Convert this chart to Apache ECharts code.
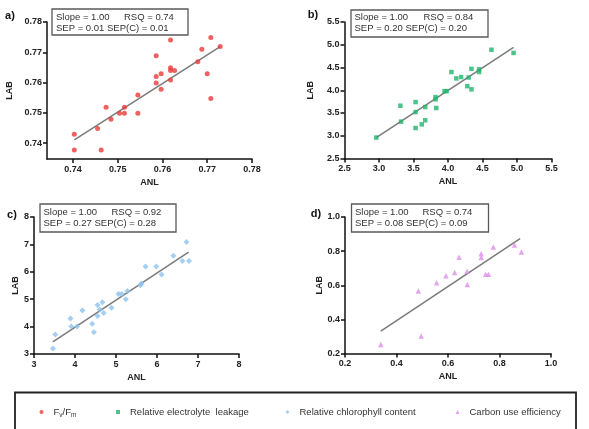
<!DOCTYPE html>
<html>
<head>
<meta charset="utf-8">
<script src="https://cdn.jsdelivr.net/npm/echarts@6/dist/echarts.min.js"></script>
<style>html,body{margin:0;padding:0;background:#fff}#c{width:589px;height:429px}</style>
</head>
<body>
<div id="c"></div>
<script>
// ---- Data ----
var seriesNames = ['Fv/Fm', 'Relative electrolyte  leakage', 'Relative chlorophyll content', 'Carbon use efficiency'];
var panelLabels = ['a)', 'b)', 'c)', 'd)'];
var statLine1 = ['Slope = 1.00', 'Slope = 1.00', 'Slope = 1.00', 'Slope = 1.00'];
var statRSQ = ['RSQ = 0.74', 'RSQ = 0.84', 'RSQ = 0.92', 'RSQ = 0.74'];
var statLine2 = ['SEP = 0.01 SEP(C) = 0.01', 'SEP = 0.20 SEP(C) = 0.20', 'SEP = 0.27 SEP(C) = 0.28', 'SEP = 0.08 SEP(C) = 0.09'];

// a) Fv/Fm
var fvX = [0.7403,0.7403,0.7455,0.7463,0.7474,0.7485,0.7504,0.7515,0.7515,0.7545,0.7545,0.7586,0.7586,0.7586,0.7597,0.7597,0.7618,0.7618,0.7618,0.7618,0.7627,0.7679,0.7688,0.7700,0.7708,0.7708,0.7729];
var fvY = [0.7430,0.7378,0.7449,0.7378,0.7519,0.7479,0.7499,0.7519,0.7499,0.7559,0.7499,0.7689,0.7620,0.7599,0.7629,0.7578,0.7741,0.7649,0.7640,0.7609,0.7640,0.7669,0.7710,0.7629,0.7749,0.7548,0.7719];
var fvLineX = [0.7403, 0.7729];
var fvLineY = [0.7411, 0.7719];
var fvTicks = [0.74, 0.75, 0.76, 0.77, 0.78];

// b) Relative electrolyte leakage
var elX = [2.96,3.31,3.32,3.53,3.53,3.53,3.62,3.67,3.67,3.82,3.82,3.83,3.95,3.98,4.05,4.12,4.19,4.28,4.30,4.34,4.34,4.45,4.45,4.63,4.95];
var elY = [2.96,3.66,3.31,3.74,3.52,3.17,3.25,3.63,3.34,3.85,3.80,3.61,3.98,3.98,4.40,4.26,4.29,4.09,4.28,4.47,4.02,4.46,4.40,4.89,4.82];
var elLineX = [2.96, 4.95];
var elLineY = [2.96, 4.94];

// c) Relative chlorophyll content
var chX = [3.46,3.52,3.89,3.91,4.05,4.18,4.42,4.46,4.55,4.55,4.60,4.67,4.70,4.89,5.06,5.14,5.24,5.28,5.60,5.62,5.72,5.98,6.11,6.40,6.62,6.72,6.78];
var chY = [3.20,3.71,4.30,4.00,4.00,4.59,4.10,3.79,4.79,4.39,4.62,4.89,4.50,4.69,5.19,5.19,5.00,5.30,5.51,5.57,6.19,6.19,5.90,6.59,6.39,7.09,6.39];
var chLineX = [3.46, 6.77];
var chLineY = [3.44, 6.72];

// d) Carbon use efficiency
var cuX = [0.339,0.485,0.496,0.556,0.592,0.626,0.643,0.674,0.675,0.729,0.729,0.746,0.757,0.776,0.858,0.885];
var cuY = [0.253,0.567,0.303,0.614,0.655,0.674,0.764,0.682,0.604,0.785,0.762,0.664,0.664,0.824,0.836,0.795];
var cuLineX = [0.339, 0.880];
var cuLineY = [0.331, 0.873];

// ---- Build ----
function pairs(xs, ys) { return xs.map(function (x, i) { return [x, ys[i]]; }); }

var FONT = 'Liberation Sans, Arial, sans-serif';
var colors = ['#e83a3a', '#1fb56c', '#8ec3ee', '#dc8ee8'];
var symbols = ['circle', 'rect', 'diamond', 'triangle'];
var symSizes = [5, 4.5, 6, 5.5];

var grids = [
  {left: 47, top: 22, width: 205, height: 137},
  {left: 344.5, top: 22, width: 207, height: 136.5},
  {left: 34, top: 217, width: 205, height: 137},
  {left: 345, top: 217, width: 206, height: 136.5}
];

function axisBase(extra) {
  var o = {
    type: 'value',
    axisLine: {show: true, onZero: false, lineStyle: {color: '#111', width: 1.5}},
    axisTick: {show: true, inside: false, length: 4, lineStyle: {color: '#111', width: 1.5}},
    splitLine: {show: false},
    axisLabel: {color: '#222', fontFamily: FONT, fontWeight: 'bold', fontSize: 9},
    nameTextStyle: {color: '#222', fontFamily: FONT, fontWeight: 'bold', fontSize: 9},
    nameLocation: 'middle'
  };
  for (var k in extra) {
    if (typeof extra[k] === 'object' && o[k] && !Array.isArray(extra[k])) {
      for (var j in extra[k]) o[k][j] = extra[k][j];
    } else o[k] = extra[k];
  }
  return o;
}

var xAxes = [
  axisBase({gridIndex: 0, min: 0.7342, max: 0.78, name: 'ANL', nameGap: 19,
    axisLabel: {margin: 6, customValues: fvTicks, formatter: function (v) { return v.toFixed(2); }},
    axisTick: {customValues: fvTicks}}),
  axisBase({gridIndex: 1, min: 2.5, max: 5.5, interval: 0.5, name: 'ANL', nameGap: 19,
    axisLabel: {margin: 6, formatter: function (v) { return v.toFixed(1); }}}),
  axisBase({gridIndex: 2, min: 3, max: 8, interval: 1, name: 'ANL', nameGap: 19,
    axisLabel: {margin: 6}}),
  axisBase({gridIndex: 3, min: 0.2, max: 1.0, interval: 0.2, name: 'ANL', nameGap: 19,
    axisLabel: {margin: 6, formatter: function (v) { return v.toFixed(1); }}})
];
var yAxes = [
  axisBase({gridIndex: 0, min: 0.7348, max: 0.78, name: 'LAB', nameGap: 33,
    axisLabel: {margin: 5, customValues: fvTicks, formatter: function (v) { return v.toFixed(2); }},
    axisTick: {customValues: fvTicks}}),
  axisBase({gridIndex: 1, min: 2.5, max: 5.5, interval: 0.5, name: 'LAB', nameGap: 29,
    axisLabel: {margin: 5, formatter: function (v) { return v.toFixed(1); }}}),
  axisBase({gridIndex: 2, min: 3, max: 8, interval: 1, name: 'LAB', nameGap: 12,
    axisLabel: {margin: 5}}),
  axisBase({gridIndex: 3, min: 0.2, max: 1.0, interval: 0.2, name: 'LAB', nameGap: 20,
    axisLabel: {margin: 5, formatter: function (v) { return v.toFixed(1); }}})
];

var scatterData = [pairs(fvX, fvY), pairs(elX, elY), pairs(chX, chY), pairs(cuX, cuY)];
var lineData = [pairs(fvLineX, fvLineY), pairs(elLineX, elLineY), pairs(chLineX, chLineY), pairs(cuLineX, cuLineY)];

var series = [];
for (var i = 0; i < 4; i++) {
  series.push({
    type: 'line', xAxisIndex: i, yAxisIndex: i, data: lineData[i], symbol: 'none',
    lineStyle: {color: '#7a7a7a', width: 1.5}, silent: true, z: 1
  });
  series.push({
    type: 'scatter', name: seriesNames[i], xAxisIndex: i, yAxisIndex: i, data: scatterData[i],
    symbol: symbols[i], symbolSize: symSizes[i], itemStyle: {color: colors[i]}, z: 3
  });
}

// Legend: one component per item for precise placement
var legendLeft = [34.5, 111, 280.5, 450.5];
var legends = [];
for (var j = 0; j < 4; j++) {
  legends.push({
    data: [{name: seriesNames[j], icon: symbols[j]}],
    left: legendLeft[j], top: 402, itemWidth: 4, itemHeight: 4,
    selectedMode: false,
    formatter: j === 0 ? function () { return '{n|F}{s|v}{n|/F}{s|m}'; } : null,
    textStyle: {
      color: '#333', fontFamily: FONT, fontSize: 9.5, padding: [0, 0, 0, 5],
      rich: {
        n: {fontSize: 9.5, fontFamily: FONT, color: '#333', lineHeight: 14, verticalAlign: 'middle'},
        s: {fontSize: 6.5, fontFamily: FONT, color: '#333', lineHeight: 7, verticalAlign: 'bottom'}
      }
    }
  });
}

// Stat boxes and panel labels
var boxes = [
  {x: 52, y: 9, w: 136, h: 26, tx: 56, rx: 124, l1: 17, l2: 28},
  {x: 351, y: 10, w: 137, h: 27, tx: 354.5, rx: 423.5, l1: 17.5, l2: 28.5},
  {x: 40, y: 204, w: 136, h: 28, tx: 43.5, rx: 111.5, l1: 212.5, l2: 223.5},
  {x: 351.5, y: 204, w: 137, h: 28, tx: 355, rx: 422.5, l1: 212.5, l2: 223.5}
];
var labelPos = [[10, 16], [313, 14.5], [12, 215], [316, 214]];
var graphics = [];
boxes.forEach(function (b, i) {
  graphics.push({type: 'rect', shape: {x: b.x, y: b.y, width: b.w, height: b.h},
    style: {fill: '#fff', stroke: '#5a5a5a', lineWidth: 1.3}, z: 10});
  var ts = function (t, x, y) {
    return {type: 'text', x: x, y: y, z: 11,
      style: {text: t, fill: '#333', font: '9.5px ' + FONT, textVerticalAlign: 'middle', verticalAlign: 'middle'}};
  };
  graphics.push(ts(statLine1[i], b.tx, b.l1));
  graphics.push(ts(statRSQ[i], b.rx, b.l1));
  graphics.push(ts(statLine2[i], b.tx, b.l2));
  graphics.push({type: 'text', x: labelPos[i][0], y: labelPos[i][1], z: 11,
    style: {text: panelLabels[i], fill: '#111', font: 'bold 11px ' + FONT, align: 'center', verticalAlign: 'middle'}});
});
graphics.push({type: 'rect', shape: {x: 15, y: 392.5, width: 561, height: 45},
  style: {fill: 'none', stroke: '#222', lineWidth: 1.8}, z: 10});

var chart = echarts.init(document.getElementById('c'), null, {renderer: 'canvas'});
chart.setOption({
  animation: false,
  backgroundColor: '#fff',
  grid: grids,
  xAxis: xAxes,
  yAxis: yAxes,
  legend: legends,
  series: series,
  graphic: graphics
});
</script>
</body>
</html>
